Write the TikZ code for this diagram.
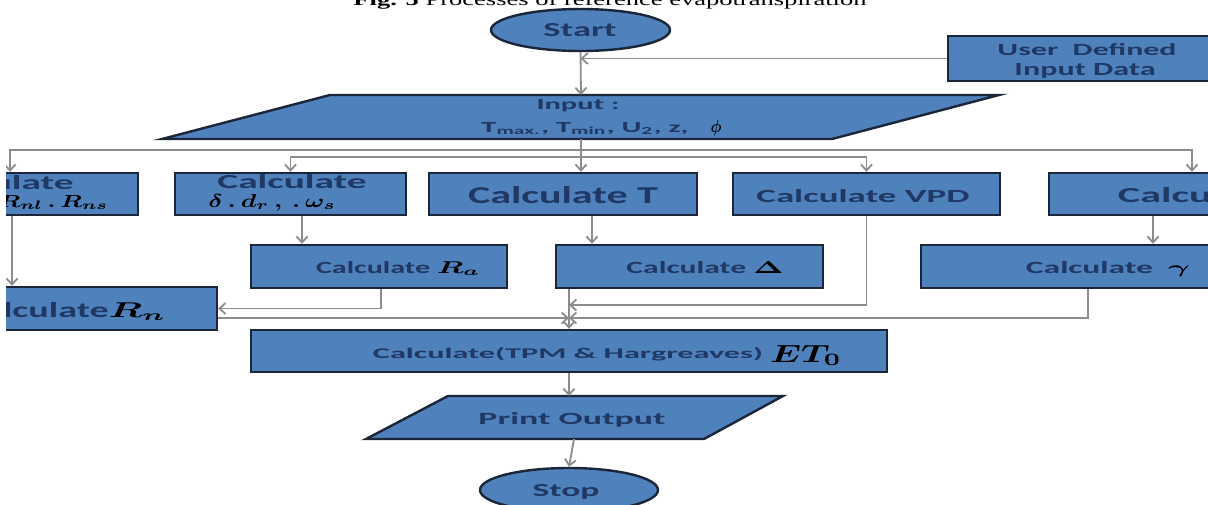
\documentclass[tikz,border=0pt]{standalone}
\usepackage{fontspec}
\usepackage{amsmath}
\usepackage{graphicx}
\setmainfont{Carlito}
\newfontfamily\titlefont{Liberation Serif}
\usetikzlibrary{arrows.meta,shapes.geometric,calc}
\definecolor{boxblue}{HTML}{4F81BD}
\definecolor{boxedge}{HTML}{1B2638}
\definecolor{txtblue}{HTML}{1F3864}
\definecolor{conncol}{HTML}{8C8C8C}
\newcommand{\fit}[3]{\resizebox{#1pt}{#2pt}{#3}}
\newcommand{\mth}[1]{{\color{black}$\boldsymbol{#1}$}}
\begin{document}
\begin{tikzpicture}[x=1pt,y=-1pt,
  box/.style={rectangle, fill=boxblue, draw=boxedge, line width=2.4pt, inner sep=0pt},
  oval/.style={ellipse, fill=boxblue, draw=boxedge, line width=2.4pt, inner sep=0pt},
  para/.style={fill=boxblue, draw=boxedge, line width=2.4pt, line join=miter},
  lbl/.style={inner sep=0pt, text=txtblue, font=\bfseries, anchor=base},
  conn/.style={draw=conncol, line width=1.8pt, -{Straight Barb[length=6pt,width=11pt]}}]
\useasboundingbox (0,0) rectangle (1208,504);
\fill[white] (0,0) rectangle (1208,504);
\clip (6,0) rectangle (1208,504);

% title (cut at the top)
\node[anchor=base, inner sep=0pt] (title) at (610,5) {\titlefont\fit{513}{12}{\textbf{Fig. 5} Processes of reference evapotranspiration}};

% shapes
\node[oval, minimum width=179pt, minimum height=42pt] (start) at (580.5,30) {};
\node[box, minimum width=267pt, minimum height=45pt] (user) at (1081.5,58.5) {};
\path[para] (330,95) -- (999,95) -- (832,139) -- (162,139) -- cycle;
\coordinate (inTop) at (581,95);
\coordinate (inBot) at (581,139);

\node[box, minimum width=231pt, minimum height=42pt] (A) at (22.5,194) {};
\node[box, minimum width=231pt, minimum height=42pt] (delta) at (290.5,194) {};
\node[box, minimum width=268pt, minimum height=42pt] (T) at (563,194) {};
\node[box, minimum width=267pt, minimum height=42pt] (VPD) at (866.5,194) {};
\node[box, minimum width=268pt, minimum height=42pt] (E) at (1183,194) {};

\node[box, minimum width=256pt, minimum height=43pt] (Ra) at (379,266.5) {};
\node[box, minimum width=267pt, minimum height=43pt] (Delta) at (689.5,266.5) {};
\node[box, minimum width=374pt, minimum height=43pt] (gamma) at (1108,266.5) {};
\node[box, minimum width=304pt, minimum height=43pt] (Rn) at (65,308.5) {};

\node[box, minimum width=636pt, minimum height=42pt] (ET) at (569,351) {};
\path[para] (448,396) -- (783,396) -- (704,439) -- (366,439) -- cycle;
\coordinate (prTop) at (569,396);
\coordinate (prBot) at (574,439);
\node[oval, minimum width=178pt, minimum height=44pt] (stop) at (569,490) {};

% labels
\node[lbl] (tstart) at (580,36) {\fit{73}{13}{Start}};
\node[lbl] (tuser1) at (1087,55) {\fit{179}{12}{User\ \ Defined}};
\node[lbl] (tuser2) at (1085,75) {\fit{141}{12}{Input Data}};
\node[lbl] (tin1) at (578,109) {\fit{83}{10}{Input :}};
\node[lbl] (tin2) at (585,132) {\fit{207}{10}{T\textsubscript{max.}, T\textsubscript{min}, U\textsubscript{2}, z,}};
\node[inner sep=0pt] (tphi) at (716,128) {\fit{11}{12}{$\boldsymbol{\phi}$}};

\node[lbl] (tA1) at (-1,189) {\fit{149}{14}{Calculate}};
\node[lbl] (tA2) at (28,207) {\fit{160}{12}{\mth{R_s\,.\,R_{nl}\,.\,R_{ns}}}};
\node[lbl] (tD1) at (292,188) {\fit{149}{14}{Calculate}};
\node[lbl] (tD2) at (272,207) {\fit{127}{13}{\mth{\delta\,.\,d_{r}\,,\,.\,\omega_{s}}}};
\node[lbl] (tT) at (563,203) {\fit{190}{17}{Calculate T}};
\node[lbl] (tV) at (863,202) {\fit{213}{13}{Calculate VPD}};
\node[lbl] (tE) at (1198,202) {\fit{160}{15}{Calculate}};

\node[lbl] (tRa) at (398,273) {\fit{164}{12}{Calculate \mth{R_a}}};
\node[lbl] (tDel) at (705,273) {\fit{157}{12}{Calculate \mth{\Delta}}};
\node[lbl] (tGam) at (1108,273) {\fit{164}{12}{Calculate\ \ \mth{\gamma}}};
\node[lbl] (tRn) at (65,317) {\fit{202}{15}{Calculate\mth{R_n}}};

\node[lbl] (tET) at (568,358) {\fit{390}{11}{Calculate(TPM \& Hargreaves)}};
\node[lbl] (tET0) at (806,362) {\fit{72}{17}{\mth{ET_0}}};
\node[lbl] (tPr) at (572,424) {\fit{187}{12}{Print Output}};
\node[lbl] (tStop) at (566,496) {\fit{67}{12}{Stop}};

% connectors
\draw[conn] (start.south) -- (inTop);
\draw[conn] (user.west) -- (user.west -| start.south);
\draw[conn] (inBot) -- (inBot |- T.north);
\coordinate (j1) at (581,150);
\coordinate (j2) at (581,157);
\draw[conn] (j1) -| ([xshift=-12.5pt]A.north);
\draw[conn] (j1) -| ([xshift=9pt]E.north);
\draw[conn] (j2) -| (delta.north);
\draw[conn] (j2) -| (VPD.north);

\draw[conn] ([xshift=-10.5pt]A.south) -- ([xshift=-10.5pt]A.south |- Rn.north);
\draw[conn] ([xshift=11.5pt]delta.south) -- ([xshift=11.5pt]delta.south |- Ra.north);
\draw[conn] ([xshift=29pt]T.south) -- ([xshift=29pt]T.south |- Delta.north);
\draw[conn] ([xshift=-30pt]E.south) -- ([xshift=-30pt]E.south |- gamma.north);

\coordinate (jA) at (569,305);
\coordinate (jB) at (569,318);
\draw[conn] ([xshift=2pt]Ra.south) |- (Rn.east);
\draw[conn] ([yshift=-9.5pt]Rn.east) -- (jB);
\draw[conn] (VPD.south) |- (jA);
\draw[conn] ([xshift=-20pt]gamma.south) |- (jB);
\draw[conn] (Delta.south -| ET.north) -- (ET.north);
\draw[conn] (ET.south) -- (prTop);
\draw[conn] (prBot) -- (stop.north);
\end{tikzpicture}
\end{document}
